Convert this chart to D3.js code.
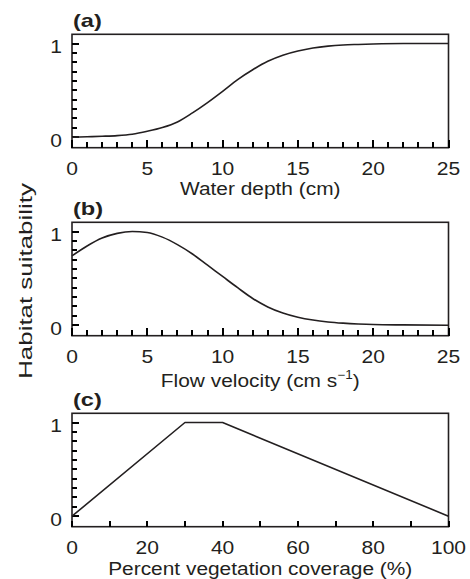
<!DOCTYPE html>
<html>
<head>
<meta charset="utf-8">
<script src="https://cdn.jsdelivr.net/npm/d3@7"></script>
<style>
  html, body { margin: 0; padding: 0; background: #fff; }
  text { font-family: "Liberation Sans", Arial, Helvetica, sans-serif; fill: #231f20; }
</style>
</head>
<body>
<svg id="chart" width="470" height="579"></svg>
<script>
// ---- Data ----
const panelLabels = ["(a)", "(b)", "(c)"];
const yTickLabels = [0, 1];

const depthX = [0, 1, 2, 3, 4, 5, 6, 7, 8, 9, 10, 11, 12, 13, 14, 15, 16, 17, 18, 19, 20, 22, 25];
const depthY = [0.0, 0.005, 0.01, 0.017, 0.032, 0.063, 0.103, 0.163, 0.26, 0.37, 0.49, 0.615, 0.72, 0.81, 0.875, 0.92, 0.952, 0.972, 0.984, 0.99, 0.995, 1.0, 1.0];

const velocityX = [0, 1, 2, 3, 4, 5, 6, 7, 8, 9, 10, 11, 12, 13, 14, 15, 16, 17, 18, 19, 20, 22, 25];
const velocityY = [0.74, 0.845, 0.93, 0.98, 1.0, 0.99, 0.94, 0.86, 0.76, 0.64, 0.52, 0.40, 0.285, 0.195, 0.13, 0.085, 0.055, 0.035, 0.022, 0.013, 0.007, 0.003, 0.0];

const vegX = [0, 30, 40, 100];
const vegY = [0, 1, 1, 0];

const depthTicks = [0, 5, 10, 15, 20, 25];
const velocityTicks = [0, 5, 10, 15, 20, 25];
const vegTicks = [0, 20, 40, 60, 80, 100];

// ---- Layout ----
const svg = d3.select("#chart");
const ink = "#231f20";
const tickInk = "#000";
const left = 72, right = 448.5;
const panels = [
  { top: 34.3, bottom: 147.7, xs: depthX, ys: depthY, domain: [0, 25], majors: depthTicks, minorStep: 1, majorLen: 8, title: "Water depth (cm)", titleY: 195 },
  { top: 222.3, bottom: 335.7, xs: velocityX, ys: velocityY, domain: [0, 25], majors: velocityTicks, minorStep: 1, majorLen: 8, title: "Flow velocity (cm s", sup: "−1", titleEnd: ")", titleY: 387 },
  { top: 413.3, bottom: 526.7, xs: vegX, ys: vegY, domain: [0, 100], majors: vegTicks, minorStep: 10, majorLen: 6, title: "Percent vegetation coverage (%)", titleY: 575 }
];
const sx = 1.17;

panels.forEach((p, i) => {
  const x = d3.scaleLinear().domain(p.domain).range([left, right]);
  const y = d3.scaleLinear().domain([0, 1]).range([p.bottom - 10.5, p.top + 9.2]);
  const g = svg.append("g");

  // frame
  g.append("rect").attr("x", left).attr("y", p.top).attr("width", right - left).attr("height", p.bottom - p.top)
    .attr("fill", "none").attr("stroke", ink).attr("stroke-width", 1.6);

  // x ticks (inner, pointing up), pixel-aligned
  const xVals = d3.range(p.domain[0], p.domain[1] + 1e-9, p.minorStep);
  g.append("g").attr("shape-rendering", "crispEdges").selectAll("rect").data(xVals).enter().append("rect")
    .attr("x", d => Math.round(x(d)) - 1)
    .attr("width", 2)
    .attr("y", d => Math.round(p.bottom) - (p.majors.includes(d) ? p.majorLen : 6))
    .attr("height", d => (p.majors.includes(d) ? p.majorLen : 6))
    .attr("fill", tickInk);

  // x labels
  g.append("g").selectAll("text").data(p.majors).enter().append("text")
    .attr("transform", d => `translate(${x(d)},${p.bottom + 27.5}) scale(${sx},1)`)
    .attr("text-anchor", "middle")
    .attr("font-size", 18)
    .text(d => d);

  // y ticks (inner, pointing right), pixel-aligned
  const yVals = d3.range(0, 11).map(k => k / 10);
  g.append("g").attr("shape-rendering", "crispEdges").selectAll("rect").data(yVals).enter().append("rect")
    .attr("x", Math.round(left))
    .attr("width", d => (d === 0 || d === 1) ? 7 : 5)
    .attr("y", d => Math.round(y(d)) - 1)
    .attr("height", 2)
    .attr("fill", tickInk);

  g.selectAll(".ylab").data(yTickLabels).enter().append("text")
    .attr("class", "ylab")
    .attr("transform", d => `translate(62,${y(d) + 9.5}) scale(${sx},1)`)
    .attr("text-anchor", "end")
    .attr("font-size", 18)
    .text(d => d);

  // curve
  const pts = p.xs.map((v, k) => [v, p.ys[k]]);
  const line = d3.line().x(d => x(d[0])).y(d => y(d[1])).curve(i === 2 ? d3.curveLinear : d3.curveMonotoneX);
  g.append("path").datum(pts).attr("d", line)
    .attr("fill", "none").attr("stroke", ink).attr("stroke-width", 1.6).attr("stroke-linejoin", "round");

  // panel label
  g.append("text")
    .attr("transform", `translate(73,${p.top - 7.3}) scale(1.35,1)`)
    .attr("font-size", 17.5).attr("font-weight", "bold")
    .text(panelLabels[i]);

  // axis title
  const cx = (left + right) / 2;
  const t = g.append("text")
    .attr("transform", `translate(${cx},${p.titleY}) scale(1.13,1)`)
    .attr("text-anchor", "middle")
    .attr("font-size", 18.5);
  t.append("tspan").text(p.title);
  if (p.sup) {
    t.append("tspan").attr("font-size", 12).attr("dy", -8).text(p.sup);
    t.append("tspan").attr("dy", 8).text(p.titleEnd);
  }
});

// y-axis shared label
svg.append("text")
  .attr("transform", `translate(32,281) rotate(-90) scale(1.4,1)`)
  .attr("text-anchor", "middle")
  .attr("font-size", 18.5)
  .text("Habitat suitability");
</script>
</body>
</html>
